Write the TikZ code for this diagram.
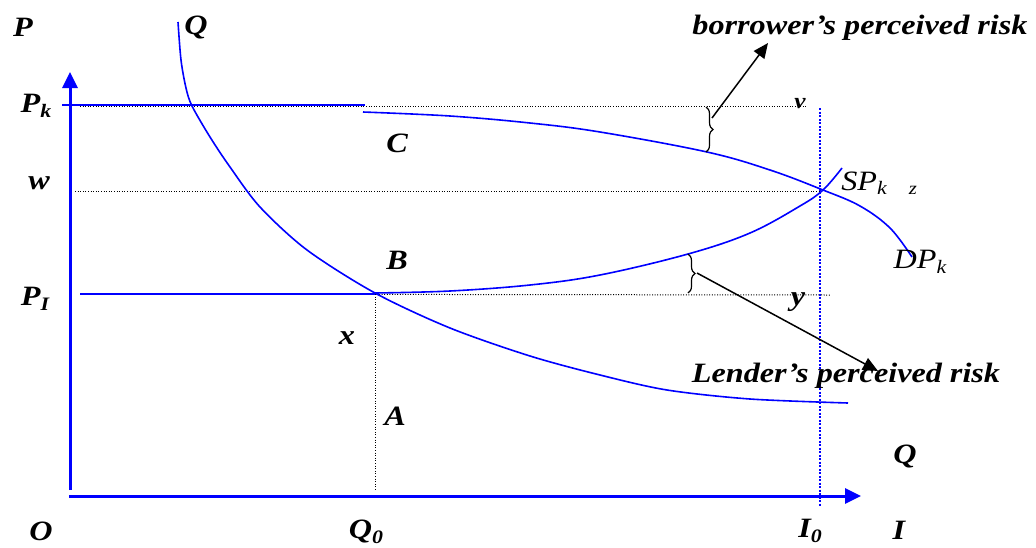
\documentclass[tikz,border=0pt]{standalone}
\usepackage{graphicx}
\usepackage{fontspec}
\setmainfont{Liberation Serif}
\usetikzlibrary{arrows.meta,decorations.pathreplacing}
\newcommand\sbs[1]{\raisebox{-0.35ex}{\fontsize{19}{20}\selectfont #1}}
\newcommand\hs[1]{\scalebox{1.15}[1]{#1}}
\tikzset{
  lbl/.style={font=\fontsize{28}{30}\selectfont\bfseries\itshape, inner sep=0pt},
  lblr/.style={font=\fontsize{28}{30}\selectfont\itshape, inner sep=0pt},
  lbls/.style={font=\fontsize{22}{24}\selectfont\bfseries\itshape, inner sep=0pt},
  lblz/.style={font=\fontsize{18}{20}\selectfont\itshape, inner sep=0pt},
  axis/.style={blue, line width=3pt, -{Triangle[length=16pt,width=15pt]}},
  curve/.style={blue, line width=1.6pt},
  guide/.style={black, line width=1pt, dash pattern=on 1pt off 1.6pt},
  iguide/.style={blue, line width=2pt, dash pattern=on 2pt off 1.5pt},
  ptr/.style={black, line width=1.5pt, -{Triangle[length=15pt,width=13pt]}},
  brc/.style={black, line width=1.2pt, decorate, decoration={brace, amplitude=7pt}}
}
\begin{document}
\begin{tikzpicture}[x=1pt,y=-1pt]
\useasboundingbox (0,0) rectangle (1036,547);
% coordinates
\coordinate (ybot) at (70,490);
\coordinate (ytop) at (70,72);
\coordinate (xl) at (69,496);
\coordinate (xr) at (861,496);
\coordinate (pkA) at (62,105);
\coordinate (pkB) at (365,105);
\coordinate (pkd0) at (80,106);
\coordinate (pkd1) at (808,106);
\coordinate (wd0) at (75,191);
\coordinate (wd1) at (823,191);
\coordinate (piA) at (80,294);
\coordinate (piB) at (375,294);
\coordinate (pid1) at (830,295);
\coordinate (q0top) at (375,294);
\coordinate (q0bot) at (375,490);
\coordinate (i0top) at (820,108);
\coordinate (i0bot) at (820,507);
% axes
\draw[axis] (ybot) -- (ytop);
\draw[axis] (xl) -- (xr);
% guides
\draw[guide] (pkd0) -- (pkd1);
\draw[guide] (wd0) -- (wd1);
\draw[guide] (piA) -- (pid1);
\draw[guide] (q0top) -- (q0bot);
\draw[iguide] (i0top) -- (i0bot);
% horizontal solid segments
\draw[curve, line width=2pt] (pkA) -- (pkB);
\draw[curve, line width=2pt] (piA) -- (piB);
% demand curve Q
\draw[curve] plot[smooth, tension=0.5] coordinates {(178,22) (181,60) (186,88) (192,106) (210,137) (230,167) (260,207) (307,250) (375,293) (450,328) (530,356) (600,375) (667,390) (750,399) (848,403)};
% curve C / DPk
\draw[curve] plot[smooth, tension=0.6] coordinates {(363,112) (450,116) (530,123) (600,132) (707,152) (770,170) (823,190) (860,206) (890,228) (912,257)};
% supply curve SPk
\draw[curve] plot[smooth, tension=0.6] coordinates {(375,293) (450,291) (530,285) (600,275) (688,254) (750,233) (800,206) (823,190) (842,168)};
% braces
\coordinate (b1t) at (706,107);
\coordinate (b1b) at (706,152);
\draw[brc] (b1t) -- (b1b);
\coordinate (a1s) at (712,118);
\coordinate (a1e) at (768,43);
\draw[ptr] (a1s) -- (a1e);
\coordinate (b2t) at (688,254);
\coordinate (b2b) at (688,293);
\draw[brc] (b2t) -- (b2b);
\coordinate (a2s) at (697,273);
\coordinate (a2e) at (878,371);
\draw[ptr] (a2s) -- (a2e);
% labels
\node[lbl] (lP) at (23,27) {\hs{P}};
\node[lbl] (lQt) at (196,27) {\hs{Q}};
\node[lbl] (lPk) at (36,106) {\hs{P\sbs{k}}};
\node[lbl] (lw) at (39,183) {\hs{w}};
\node[lbl] (lPI) at (35,299) {\hs{P\sbs{I}}};
\node[lbl] (lC) at (397,143) {\hs{C}};
\node[lbl] (lB) at (397,260) {\hs{B}};
\node[lbl] (lx) at (347,338) {\hs{x}};
\node[lbl] (lA) at (395,416) {\hs{A}};
\node[lbl] (lO) at (41,531) {\hs{O}};
\node[lbl] (lQ0) at (366,532) {\hs{Q\sbs{0}}};
\node[lbl] (lI0) at (810,531) {\hs{I\sbs{0}}};
\node[lbl] (lI) at (899,530) {\hs{I}};
\node[lbl] (lQr) at (905,456) {\hs{Q}};
\node[lbl] (ly) at (798,302) {\hs{y}};
\node[lbls] (lv) at (800,104) {\hs{v}};
\node[lblr] (lSP) at (864,183) {\hs{SP\sbs{k}}};
\node[lblz] (lz) at (913,190) {\hs{z}};
\node[lblr] (lDP) at (920,262) {\hs{DP\sbs{k}}};
\node[lbl] (lbor) at (860,28) {\hs{borrower’s perceived risk}};
\node[lbl] (llen) at (846,376) {\hs{Lender’s perceived risk}};
\end{tikzpicture}
\end{document}
